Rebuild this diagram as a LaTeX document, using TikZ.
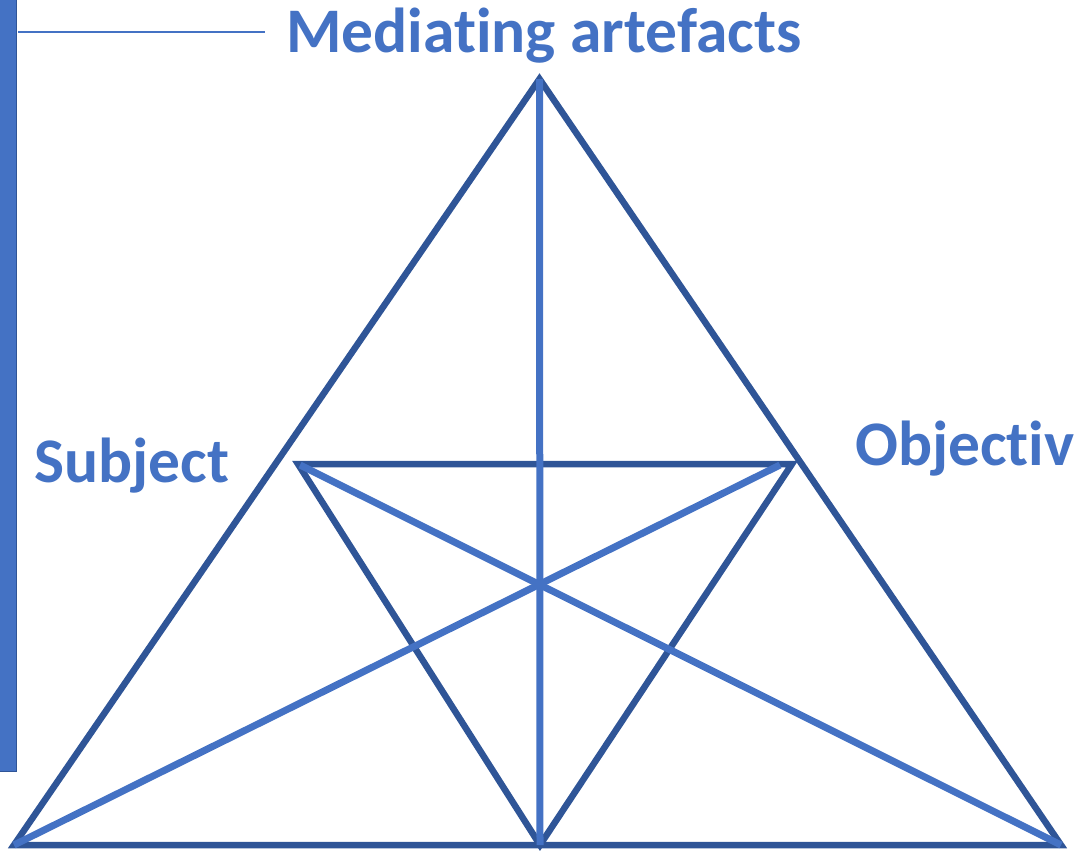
\documentclass[tikz,border=0pt]{standalone}
\usepackage{fontspec}
\setmainfont[Ligatures={NoCommon,NoRequired,NoContextual}]{Carlito}
\definecolor{lblue}{HTML}{4472C4}
\definecolor{dblue}{HTML}{2F5597}
\begin{document}
\begin{tikzpicture}[x=1pt,y=-1pt,
  outer/.style={draw=dblue,line width=6.5pt,line join=miter},
  light/.style={draw=lblue,line width=7pt},
  lbl/.style={text=lblue,font=\fontsize{63.5}{63.5}\selectfont\bfseries,inner sep=0pt,anchor=base west}]
\useasboundingbox (0,0) rectangle (1077,851);
% left bar and its pointer line
\fill[lblue] (-2,-2) rectangle (17,771);
\draw[dblue,line width=1.2pt] (16.4,-2) -- (16.4,771.4) -- (-2,771.4);
\coordinate (barp) at (18,32);
\coordinate (linee) at (265,32);
\draw[lblue,line width=1.6pt] (barp) -- (linee);
% vertices
\coordinate (A) at (539.5,79);
\coordinate (BL) at (14,845);
\coordinate (BR) at (1061,845);
\coordinate (M) at (540,845);
\coordinate (IL) at (298,464);
\coordinate (IR) at (792,464);
\coordinate (IRs) at (780,465);
\coordinate (ILs) at (300,465);
% outer triangle
\draw[outer] (A) -- (BR) -- (BL) -- cycle;
% inner triangle
\draw[outer] (IL) -- (IR) -- (M) -- cycle;
% medians
\draw[light] (A) -- (M);
\draw[light] (BL) -- (IRs);
\draw[light] (BR) -- (ILs);
% labels
\node[lbl] (med) at (286,53) {Mediating artefacts};
\node[lbl] (sub) at (34,482) {Subject};
\node[lbl] (obj) at (855,465) {Objectiv};
\end{tikzpicture}
\end{document}
